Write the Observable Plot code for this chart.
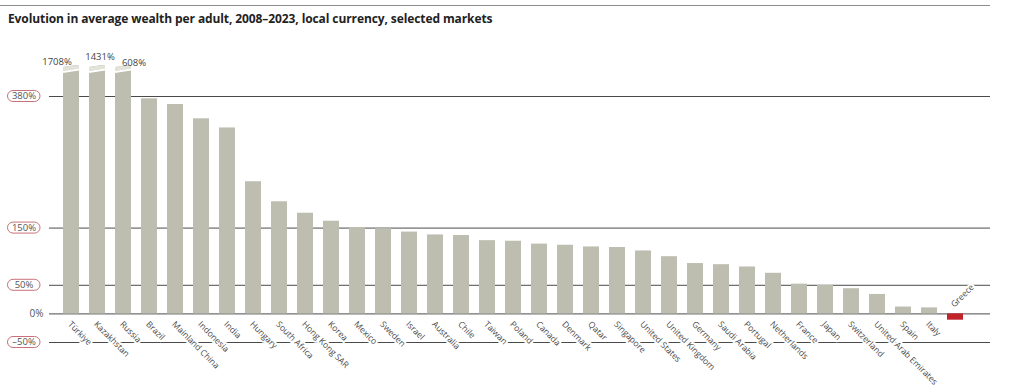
<!DOCTYPE html>
<html>
<head>
<meta charset="utf-8">
<script src="https://cdn.jsdelivr.net/npm/d3@7"></script>
<script src="https://cdn.jsdelivr.net/npm/@observablehq/plot@0.6"></script>
<style>
  html, body { margin: 0; padding: 0; background: #fff; }
  body { width: 1024px; height: 386px; overflow: hidden; font-family: "Open Sans", "DejaVu Sans", sans-serif; }
  #head { position: relative; height: 30px; }
  #topline { position: absolute; left: 0; top: 5px; width: 990px; border-top: 1.5px solid #8c8c8c; }
  #title { position: absolute; left: 8px; top: 10px; font-size: 12px; font-weight: 700; color: #222; white-space: nowrap; letter-spacing: -0.1px; }
  svg { display: block; }
</style>
</head>
<body>
<div id="head"><div id="topline"></div><div id="title">Evolution in average wealth per adult, 2008–2023, local currency, selected markets</div></div>
<div id="chart"></div>
<script>
// ---- data ----
const countries = ["Türkiye","Kazakhstan","Russia","Brazil","Mainland China","Indonesia","India","Hungary","South Africa","Hong Kong SAR","Korea","Mexico","Sweden","Israel","Australia","Chile","Taiwan","Poland","Canada","Denmark","Qatar","Singapore","United States","United Kingdom","Germany","Saudi Arabia","Portugal","Netherlands","France","Japan","Switzerland","United Arab Emirates","Spain","Italy","Greece"];
const values = [1708,1431,608,376,366,341,325,231,196,176,162,151,149,143,138,137,128,127,122,120,117,116,110,100,88,86,82,71,52,50,44,34,12,10.5,-11];
const tickValues = [-50, 0, 50, 150, 380];
const tickLabels = ["–50%", "0%", "50%", "150%", "380%"];
const boxedTicks = [-50, 50, 150, 380];
const breakCap = 434; // displayed height for off-scale bars

const data = countries.map((c, i) => ({country: c, value: values[i], shown: Math.min(values[i], breakCap), broken: values[i] > breakCap}));
const brokenBars = data.filter(d => d.broken);
// label offsets (style) for the off-scale value labels
const brokenDx = [-14, 3, 11];
const brokenDy = [-3, -8, -2];

const font = "'Open Sans', 'DejaVu Sans', sans-serif";
const gray = "#bdbdb0";
const labelStyle = {fontSize: 8.6, fill: "#4a4a4a", stroke: "white", strokeWidth: 4, letterSpacing: "-0.1px"};

const chart = Plot.plot({
  width: 1024,
  height: 356,
  marginLeft: 49,
  marginRight: 34,
  marginTop: 66,
  marginBottom: 44,
  style: {fontFamily: font, background: "white", overflow: "visible"},
  x: {domain: countries, range: [55.8, 971.2], paddingInner: 0.38, paddingOuter: 0, axis: null},
  y: {domain: [-50, 380], axis: null},
  marks: [
    Plot.ruleY(tickValues, {stroke: "#4a4a4a", strokeWidth: 1}),
    Plot.barY(data, {x: "country", y: "shown", fill: d => d.value < 0 ? "#c1232b" : gray}),
    Plot.text(data.filter(d => d.value >= 0), {
      x: "country", y: 0, text: "country", rotate: 45, textAnchor: "start", lineAnchor: "middle",
      dx: -2, dy: 9, ...labelStyle
    }),
    Plot.text(data.filter(d => d.value < 0), {
      x: "country", y: 0, text: "country", rotate: -45, textAnchor: "start", lineAnchor: "middle",
      dx: -3, dy: -8, ...labelStyle
    }),
    Plot.text(tickValues.filter(v => v === 0), {
      y: d => d, text: d => tickLabels[tickValues.indexOf(d)], frameAnchor: "left",
      textAnchor: "end", dx: -6, fontSize: 10, fill: "#555"
    })
  ]
});

document.getElementById("chart").appendChild(chart);

// decorations drawn via the plot's own scales
const xs = chart.scale("x"), ys = chart.scale("y");
const bw = xs.bandwidth;
const svg = d3.select(chart);
const deco = svg.append("g");
brokenBars.forEach((d, i) => {
  const x0 = xs.apply(d.country), x1 = x0 + bw;
  const yt = ys.apply(d.shown);
  deco.append("path").attr("d", `M${x0},${yt - 0.5}L${x1},${yt - 0.5}L${x0},${yt + 2}Z`).attr("fill", "white");
  deco.append("path").attr("d", `M${x0},${yt + 2}L${x1},${yt}L${x1},${yt + 3.5}L${x0},${yt + 6}Z`).attr("fill", "#e3e3da");
  deco.append("path").attr("d", `M${x0},${yt + 6}L${x1},${yt + 3.5}L${x1},${yt + 5.5}L${x0},${yt + 8}Z`).attr("fill", "white");
  deco.append("text").attr("x", x0 + bw / 2 + brokenDx[i]).attr("y", yt + brokenDy[i]).attr("dy", "0.32em")
    .attr("text-anchor", "middle").attr("font-size", 9.5).attr("fill", "#444").attr("font-family", font)
    .text(d.value + "%");
});
boxedTicks.forEach(v => {
  const y = ys.apply(v);
  deco.append("rect").attr("x", 7.5).attr("y", y - 5.5).attr("width", 32.5).attr("height", 11).attr("rx", 5.5)
    .attr("fill", "white").attr("stroke", "#c9707a").attr("stroke-width", 1);
  deco.append("text").attr("x", 24).attr("y", y).attr("dy", "0.35em").attr("text-anchor", "middle")
    .attr("font-size", 9.5).attr("fill", "#555").attr("font-family", font)
    .text(tickLabels[tickValues.indexOf(v)]);
});
</script>
</body>
</html>
